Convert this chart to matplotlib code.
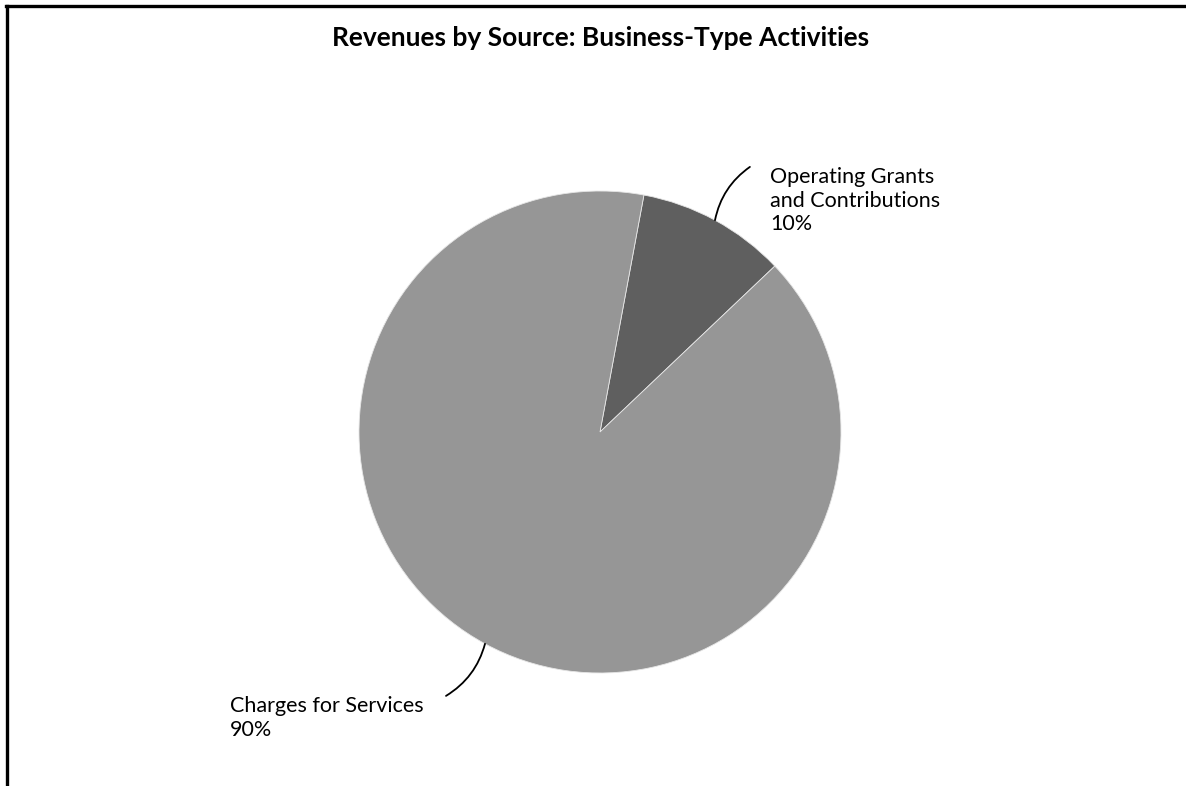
import numpy as np
import matplotlib.pyplot as plt
from matplotlib.lines import Line2D

plt.rcParams['font.family'] = ['Lato', 'DejaVu Sans']

# Données
categories = ["Operating Grants\nand Contributions", "Charges for Services"]
parts = [10, 90]
colors = ["#5f5f5f", "#969696"]

fig = plt.figure(figsize=(11.86, 7.86), dpi=100)
ax = fig.add_axes([359 / 1186, 113 / 786, 482 / 1186, 482 / 786])

start = 79.5
wedges, _ = ax.pie(parts, colors=colors, startangle=start, counterclock=False,
                   radius=1, wedgeprops=dict(edgecolor="#e6e6e6", linewidth=0.6))
ax.set_xlim(-1, 1)
ax.set_ylim(-1, 1)
ax.set_aspect("equal")
ax.axis("off")

# Etiquettes avec lignes de rappel courbes
lab_pos = [(0.705, 0.960), (-1.535, -1.187)]
line_end = [(0.622, 1.100), (-0.639, -1.095)]
rads = [0.2, 0.2]
for w, cat, p, lp, le, rad in zip(wedges, categories, parts, lab_pos, line_end, rads):
    mid = np.deg2rad((w.theta1 + w.theta2) / 2)
    anchor = (np.cos(mid), np.sin(mid))
    ax.annotate("", xy=anchor, xytext=le,
                arrowprops=dict(arrowstyle="-", color="black", lw=1.3,
                                connectionstyle=f"arc3,rad={rad}",
                                shrinkA=0, shrinkB=0),
                annotation_clip=False)
    ax.text(lp[0], lp[1], f"{cat}\n{p}%", ha="left", va="center", fontsize=15.5,
            linespacing=1.2, clip_on=False)

fig.suptitle("Revenues by Source: Business-Type Activities", fontsize=19,
             fontweight="bold", x=0.506, y=1 - 38 / 786, va="center")

# Cadre
fig.add_artist(Line2D([6 / 1186, 1], [1 - 6 / 786, 1 - 6 / 786], color="black", lw=2.4))
fig.add_artist(Line2D([7 / 1186, 7 / 1186], [0, 1 - 6 / 786], color="black", lw=2.4))

fig.savefig("out.png", dpi=100)
